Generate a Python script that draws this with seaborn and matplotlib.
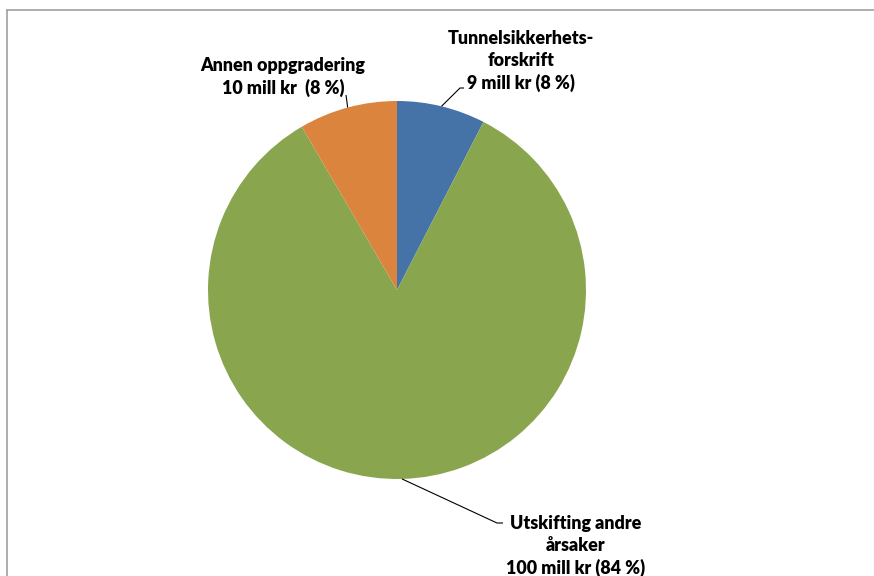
import matplotlib.pyplot as plt
import numpy as np
import seaborn as sns
from matplotlib.lines import Line2D

categories = ["Tunnelsikkerhets-\nforskrift", "Utskifting andre\nårsaker", "Annen oppgradering"]
values_mill_kr = [9, 100, 10]
value_labels = ["9 mill kr (8 %)", "100 mill kr (84 %)", "10 mill kr  (8 %)"]
colors = ["#4572A7", "#89A54E", "#DB843D"]

sns.set_theme(style="white")
plt.rcParams["font.family"] = ["Lato", "DejaVu Sans"]

W, H = 874, 576
fig = plt.figure(figsize=(W / 100, H / 100), dpi=100)
ax = fig.add_axes([0, 0, 1, 1])

# pie placed in pixel-like data coordinates (y from bottom)
cx, cy, r = 397, H - 290, 189
wedges, _ = ax.pie(
    values_mill_kr,
    colors=colors,
    startangle=90,
    counterclock=False,
    center=(cx, cy),
    radius=r,
    wedgeprops=dict(linewidth=0),
)
ax.set_xlim(0, W)
ax.set_ylim(0, H)
ax.set_aspect("equal")
ax.axis("off")

# label text centres and leader elbows (pixel coords from top)
label_pos = [(521, 61), (576, 546), (283, 77)]
elbows = [[(460, 88), (464, 88)], [(497, 523), (503, 523)], [(346, 95)]]

for w, cat, vl, (tx, ty), elb in zip(wedges, categories, value_labels, label_pos, elbows):
    mid = np.deg2rad((w.theta1 + w.theta2) / 2)
    sx, sy = cx + r * np.cos(mid), cy + r * np.sin(mid)
    xs = [sx] + [e[0] for e in elb]
    ys = [sy] + [H - e[1] for e in elb]
    ax.plot(xs, ys, color="black", linewidth=0.8, solid_capstyle="butt")
    ax.text(tx, H - ty, f"{cat}\n{vl}", ha="center", va="center",
            fontsize=12.9, fontweight="heavy", color="black", linespacing=1.33)

# chart-area border
border = dict(color="#A0A0A0", linewidth=1.2, transform=fig.transFigure)
fig.add_artist(Line2D([7 / W, 1], [1 - 10 / H, 1 - 10 / H], **border))
fig.add_artist(Line2D([7 / W, 7 / W], [0, 1 - 10 / H], **border))

fig.savefig("out.png", dpi=100)
